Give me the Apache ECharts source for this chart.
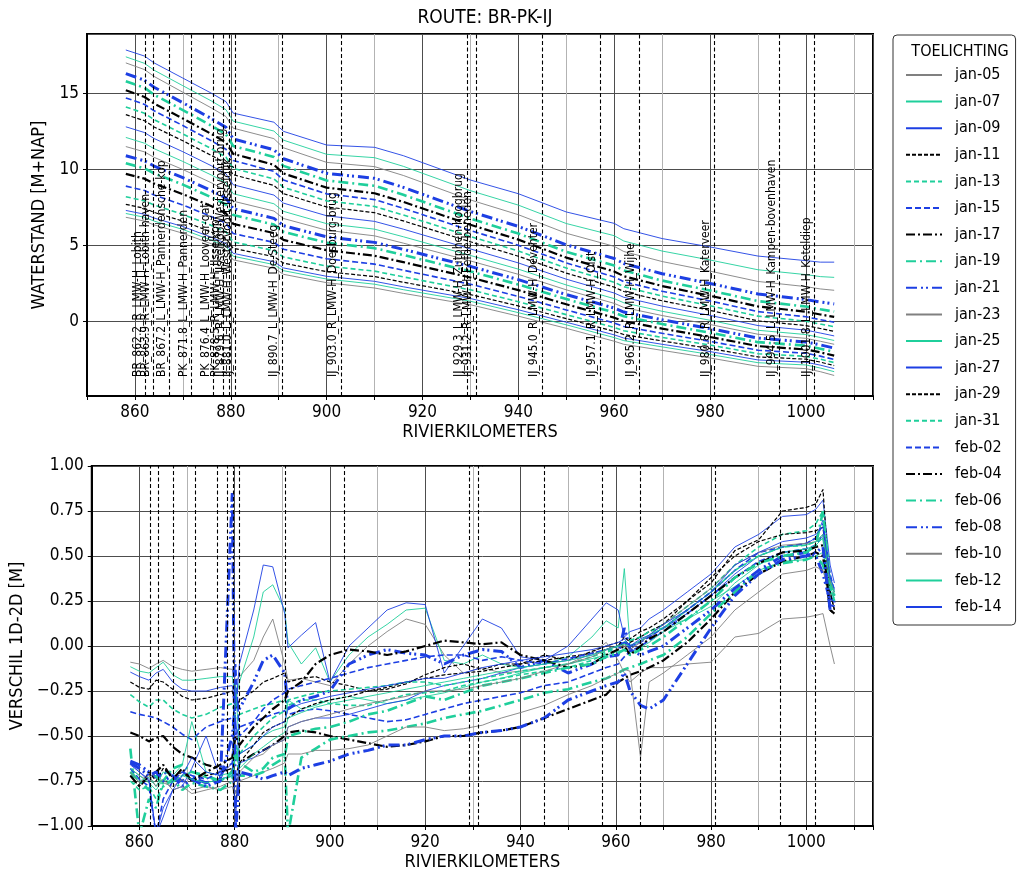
<!DOCTYPE html>
<html><head><meta charset="utf-8">
<script src="https://cdn.jsdelivr.net/npm/echarts@6/dist/echarts.min.js"></script>
<style>html,body{margin:0;padding:0;background:#fff}#c{width:1020px;height:873px}</style>
</head><body><div id="c"></div>
<script>
const FONT = "'DejaVu Sans Condensed','Liberation Sans Narrow','DejaVu Sans',sans-serif";

const dates = ['jan-05','jan-07','jan-09','jan-11','jan-13','jan-15','jan-17','jan-19','jan-21','jan-23','jan-25','jan-27','jan-29','jan-31','feb-02','feb-04','feb-06','feb-08','feb-10','feb-12','feb-14'];

// ---- top panel: waterstand [m+NAP] ----
const kmTop = [858.1, 862, 864, 870, 876, 879, 880.5, 889, 891, 900, 910, 916, 930, 940, 950, 960, 962, 970, 980, 990, 1000, 1003, 1005.9];
const wsJan05 = [6.85, 6.6, 6.35, 5.8, 5.1, 4.7, 4.05, 3.5, 3.1, 2.55, 2.2, 1.85, 1.1, 0.35, -0.45, -1.3, -1.5, -1.9, -2.4, -2.95, -3.1, -3.3, -3.55];
const wsJan07 = [7.1, 6.85, 6.6, 6.05, 5.34, 4.94, 4.29, 3.74, 3.34, 2.79, 2.45, 2.09, 1.33, 0.58, -0.22, -1.06, -1.26, -1.67, -2.17, -2.71, -2.86, -3.06, -3.3];
const wsJan09 = [7.3, 7.05, 6.8, 6.24, 5.53, 5.13, 4.48, 3.93, 3.52, 2.97, 2.64, 2.28, 1.51, 0.77, -0.05, -0.88, -1.09, -1.5, -1.98, -2.53, -2.68, -2.87, -3.1];
const wsJan11 = [7.7, 7.44, 7.17, 6.6, 5.87, 5.46, 4.81, 4.26, 3.84, 3.27, 2.95, 2.58, 1.77, 1.02, 0.19, -0.65, -0.86, -1.28, -1.78, -2.33, -2.48, -2.67, -2.9];
const wsJan13 = [8.2, 7.93, 7.66, 7.04, 6.31, 5.89, 5.23, 4.66, 4.24, 3.64, 3.31, 2.93, 2.08, 1.3, 0.45, -0.39, -0.61, -1.05, -1.55, -2.12, -2.29, -2.48, -2.7];
const wsJan15 = [8.9, 8.61, 8.31, 7.66, 6.89, 6.46, 5.78, 5.2, 4.75, 4.12, 3.77, 3.37, 2.45, 1.65, 0.76, -0.1, -0.33, -0.78, -1.31, -1.89, -2.09, -2.28, -2.5];
const wsJan17 = [9.7, 9.39, 9.07, 8.37, 7.57, 7.11, 6.42, 5.81, 5.36, 4.68, 4.32, 3.9, 2.89, 2.06, 1.13, 0.25, 0.01, -0.47, -1.02, -1.62, -1.84, -2.03, -2.25];
const wsJan19 = [10.4, 10.07, 9.74, 9.0, 8.16, 7.69, 7.0, 6.37, 5.89, 5.18, 4.82, 4.37, 3.29, 2.43, 1.47, 0.59, 0.34, -0.17, -0.74, -1.36, -1.59, -1.79, -2.0];
const wsJan21 = [10.9, 10.56, 10.22, 9.45, 8.6, 8.11, 7.42, 6.78, 6.3, 5.56, 5.2, 4.74, 3.62, 2.75, 1.77, 0.88, 0.62, 0.11, -0.47, -1.09, -1.35, -1.54, -1.75];
const wsJan23 = [11.5, 11.15, 10.79, 9.99, 9.11, 8.62, 7.91, 7.26, 6.77, 6.0, 5.63, 5.15, 3.98, 3.1, 2.08, 1.19, 0.92, 0.39, -0.2, -0.84, -1.11, -1.3, -1.5];
const wsJan25 = [12.1, 11.72, 11.36, 10.52, 9.62, 9.12, 8.4, 7.74, 7.24, 6.43, 6.07, 5.57, 4.34, 3.44, 2.4, 1.5, 1.23, 0.67, 0.08, -0.58, -0.86, -1.05, -1.25];
const wsJan27 = [12.8, 12.42, 12.03, 11.16, 10.23, 9.71, 8.99, 8.31, 7.78, 6.95, 6.58, 6.07, 4.77, 3.85, 2.78, 1.87, 1.59, 1.01, 0.4, -0.27, -0.57, -0.76, -0.95];
const wsJan29 = [13.6, 13.2, 12.79, 11.88, 10.91, 10.38, 9.65, 8.94, 8.4, 7.53, 7.15, 6.61, 5.24, 4.29, 3.18, 2.26, 1.97, 1.36, 0.73, 0.04, -0.27, -0.46, -0.65];
const wsJan31 = [14.1, 13.69, 13.27, 12.33, 11.35, 10.8, 10.07, 9.37, 8.82, 7.93, 7.56, 7.0, 5.59, 4.63, 3.51, 2.58, 2.29, 1.67, 1.03, 0.35, 0.02, -0.17, -0.35];
const wsFeb02 = [14.7, 14.27, 13.85, 12.88, 11.87, 11.32, 10.58, 9.87, 9.3, 8.39, 8.01, 7.44, 5.98, 5.01, 3.85, 2.93, 2.62, 1.99, 1.35, 0.65, 0.31, 0.12, -0.05];
const wsFeb04 = [15.2, 14.76, 14.33, 13.34, 12.32, 11.77, 11.02, 10.3, 9.73, 8.8, 8.43, 7.86, 6.36, 5.38, 4.2, 3.29, 2.98, 2.33, 1.69, 0.99, 0.64, 0.46, 0.3];
const wsFeb06 = [15.8, 15.36, 14.91, 13.9, 12.86, 12.3, 11.54, 10.82, 10.23, 9.27, 8.92, 8.33, 6.77, 5.78, 4.58, 3.68, 3.35, 2.69, 2.04, 1.34, 0.98, 0.8, 0.65];
const wsFeb08 = [16.3, 15.86, 15.4, 14.38, 13.33, 12.76, 12.0, 11.29, 10.7, 9.74, 9.41, 8.82, 7.23, 6.25, 5.04, 4.14, 3.81, 3.14, 2.5, 1.81, 1.44, 1.28, 1.15];
const wsFeb10 = [17.0, 16.56, 16.11, 15.07, 14.03, 13.47, 12.71, 12.02, 11.42, 10.46, 10.18, 9.6, 7.99, 7.02, 5.8, 4.94, 4.6, 3.94, 3.31, 2.63, 2.29, 2.14, 2.05];
const wsFeb12 = [17.4, 16.97, 16.52, 15.5, 14.49, 13.92, 13.17, 12.52, 11.92, 10.99, 10.77, 10.2, 8.6, 7.65, 6.44, 5.64, 5.29, 4.63, 4.04, 3.4, 3.08, 2.95, 2.9];
const wsFeb14 = [17.85, 17.45, 17.0, 16.0, 15.0, 14.45, 13.7, 13.1, 12.5, 11.6, 11.45, 10.9, 9.3, 8.4, 7.2, 6.45, 6.1, 5.45, 4.9, 4.3, 4.0, 3.9, 3.9];

// ---- bottom panel: verschil 1D-2D [m] ----
const kmBot = [858.1, 860, 862, 863.5, 865, 867, 869, 871, 874, 877,
  879.5, 880.2, 881, 884, 886, 888, 890.5, 891.2, 894, 897,
  900, 904, 908, 912, 916, 920, 924, 928, 932, 936,
  940, 945, 950, 955, 958, 960.5, 961.8, 963, 965.2, 967,
  970, 975, 980, 985, 990, 995, 1000, 1002, 1003.5, 1005, 1005.9];
const dfJan05 = [-0.09, -0.1, -0.125, -0.1, -0.08, -0.115, -0.13, -0.14, -0.13, -0.12, -0.13, -0.2, -0.17, -0.08, 0.05, 0.15, -0.1, -0.19, -0.18, -0.2, -0.22, -0.1, 0.0, 0.08, 0.15, 0.12, -0.05, -0.15, -0.12, -0.15, -0.14, -0.12, -0.1, -0.04, 0.02, -0.08, -0.15, -0.2, -0.15, -0.12, -0.12, -0.1, -0.09, 0.05, 0.07, 0.15, 0.16, 0.17, 0.18, 0.0, -0.1];
const dfJan07 = [-0.115, -0.14, -0.15, -0.12, -0.09, -0.16, -0.19, -0.19, -0.18, -0.17, -0.17, -0.3, -0.2, 0.05, 0.3, 0.34, 0.2, 0.02, -0.1, -0.01, -0.2, -0.05, 0.05, 0.12, 0.2, 0.21, -0.08, -0.1, -0.05, -0.1, -0.12, -0.1, -0.06, 0.05, 0.14, 0.1, 0.43, 0.0, 0.03, 0.06, 0.1, 0.15, 0.25, 0.33, 0.42, 0.47, 0.48, 0.5, 0.52, 0.35, 0.3];
const dfJan09 = [-0.145, -0.17, -0.19, -0.15, -0.13, -0.2, -0.24, -0.25, -0.25, -0.23, -0.22, -0.35, -0.1, 0.2, 0.45, 0.44, 0.18, -0.01, 0.06, 0.13, -0.2, 0.0, 0.1, 0.2, 0.24, 0.23, -0.15, 0.0, 0.15, 0.1, -0.06, -0.08, 0.0, 0.15, 0.24, 0.2, 0.05, 0.08, 0.1, 0.15, 0.2, 0.3, 0.4, 0.55, 0.62, 0.72, 0.73, 0.76, 0.81, 0.45, 0.35];
const dfJan11 = [-0.2, -0.23, -0.24, -0.19, -0.2, -0.24, -0.28, -0.3, -0.29, -0.27, -0.25, -0.35, -0.3, -0.25, -0.2, -0.18, -0.15, -0.2, -0.18, -0.17, -0.2, -0.22, -0.25, -0.24, -0.21, -0.16, -0.12, -0.1, -0.13, -0.1, -0.1, -0.05, -0.08, -0.03, 0.0, 0.02, 0.0, 0.04, 0.08, 0.1, 0.15, 0.25, 0.35, 0.53, 0.59, 0.75, 0.77, 0.79, 0.87, 0.3, 0.2];
const dfJan13 = [-0.27, -0.31, -0.34, -0.3, -0.3, -0.35, -0.38, -0.4, -0.38, -0.34, -0.32, -0.4, -0.38, -0.35, -0.33, -0.32, -0.3, -0.33, -0.3, -0.3, -0.32, -0.33, -0.33, -0.3, -0.27, -0.26, -0.25, -0.22, -0.2, -0.18, -0.16, -0.14, -0.12, -0.08, -0.04, 0.0, 0.02, 0.03, 0.05, 0.08, 0.12, 0.22, 0.32, 0.45, 0.55, 0.62, 0.64, 0.68, 0.75, 0.38, 0.28];
const dfJan15 = [-0.365, -0.38, -0.39, -0.4, -0.42, -0.45, -0.49, -0.52, -0.45, -0.42, -0.4, -0.5, -0.45, -0.42, -0.4, -0.38, -0.36, -0.38, -0.36, -0.35, -0.36, -0.38, -0.4, -0.42, -0.41, -0.38, -0.35, -0.32, -0.3, -0.28, -0.26, -0.22, -0.2, -0.15, -0.12, -0.1, -0.06, -0.03, 0.0, 0.03, 0.08, 0.18, 0.28, 0.38, 0.47, 0.52, 0.54, 0.56, 0.62, 0.3, 0.22];
const dfJan17 = [-0.48, -0.5, -0.53, -0.51, -0.5, -0.56, -0.6, -0.62, -0.66, -0.68, -0.7, -0.75, -0.65, -0.6, -0.58, -0.55, -0.5, -0.48, -0.47, -0.48, -0.5, -0.52, -0.54, -0.56, -0.55, -0.53, -0.5, -0.5, -0.48, -0.47, -0.45, -0.4, -0.35, -0.3, -0.27, -0.2, -0.18, -0.16, -0.14, -0.12, -0.08, 0.02, 0.15, 0.3, 0.4, 0.47, 0.5, 0.52, 0.5, 0.2, 0.18];
const dfJan19 = [-0.57, -1.05, -0.85, -0.9, -0.75, -0.68, -0.66, -0.7, -0.72, -0.75, -0.7, -0.6, -0.65, -0.7, -0.68, -0.62, -0.6, -1.05, -0.62, -0.57, -0.52, -0.5, -0.48, -0.47, -0.45, -0.43, -0.4, -0.38, -0.36, -0.33, -0.3, -0.26, -0.24, -0.2, -0.18, -0.15, -0.13, -0.12, -0.1, -0.08, -0.05, 0.05, 0.18, 0.3, 0.42, 0.46, 0.48, 0.5, 0.45, 0.3, 0.25];
const dfJan21 = [-0.64, -0.66, -0.7, -0.73, -0.7, -0.72, -0.75, -0.73, -0.76, -0.74, -0.5, -0.3, -0.35, -0.2, -0.08, -0.05, -0.15, -0.35, -0.3, -0.28, -0.25, -0.1, -0.05, -0.02, -0.04, -0.05, -0.1, -0.05, -0.02, -0.03, -0.12, -0.08, -0.15, -0.1, -0.06, -0.05, 0.1, -0.02, -0.05, -0.03, 0.0, 0.1, 0.2, 0.32, 0.42, 0.5, 0.52, 0.5, 0.4, 0.25, 0.3];
const dfJan23 = [-0.68, -0.72, -0.75, -0.7, -0.76, -0.78, -0.74, -0.8, -0.78, -0.8, -0.78, -0.85, -0.75, -0.72, -0.7, -0.68, -0.65, -0.6, -0.6, -0.58, -0.58, -0.57, -0.55, -0.5, -0.45, -0.45, -0.47, -0.46, -0.44, -0.4, -0.37, -0.33, -0.27, -0.22, -0.18, -0.15, -0.13, -0.14, -0.62, -0.2, -0.15, -0.05, 0.05, 0.2, 0.3, 0.4, 0.42, 0.44, 0.42, 0.28, 0.3];
const dfJan25 = [-0.7, -0.75, -0.73, -0.78, -0.7, -0.72, -0.66, -0.42, -0.7, -0.72, -0.7, -0.2, -0.6, -0.55, -0.5, -0.47, -0.45, -0.3, -0.35, -0.33, -0.3, -0.28, -0.3, -0.32, -0.3, -0.28, -0.26, -0.23, -0.2, -0.18, -0.15, -0.12, -0.1, -0.07, -0.05, -0.03, -0.02, -0.04, -0.01, 0.02, 0.08, 0.15, 0.22, 0.35, 0.45, 0.52, 0.54, 0.56, 0.6, 0.35, 0.25];
const dfJan27 = [-0.65, -0.7, -0.75, -1.05, -0.9, -0.8, -0.78, -0.68, -0.5, -0.74, -0.72, -0.4, -0.65, -0.62, -0.58, -0.55, -0.52, -0.45, -0.42, -0.4, -0.4, -0.38, -0.35, -0.32, -0.3, -0.25, -0.22, -0.2, -0.18, -0.15, -0.12, -0.1, -0.08, -0.05, -0.02, 0.0, 0.02, -0.02, 0.03, 0.05, 0.1, 0.18, 0.28, 0.4, 0.5, 0.55, 0.57, 0.6, 0.7, 0.35, 0.3];
const dfJan29 = [-0.72, -0.78, -0.7, -0.75, -0.68, -0.73, -0.7, -0.75, -0.72, -0.7, -0.68, -0.9, -0.65, -0.55, -0.48, -0.45, -0.42, -0.4, -0.35, -0.32, -0.3, -0.28, -0.25, -0.23, -0.2, -0.18, -0.16, -0.15, -0.14, -0.12, -0.1, -0.08, -0.06, -0.04, -0.02, 0.0, 0.05, 0.02, 0.05, 0.08, 0.12, 0.25, 0.38, 0.5, 0.58, 0.62, 0.63, 0.64, 0.66, 0.3, 0.2];
const dfJan31 = [-0.75, -0.8, -0.78, -0.85, -0.78, -0.75, -0.72, -0.7, -0.73, -0.75, -0.72, -0.55, -0.6, -0.5, -0.45, -0.4, -0.36, -0.3, -0.28, -0.26, -0.25, -0.24, -0.23, -0.22, -0.2, -0.2, -0.22, -0.2, -0.18, -0.16, -0.14, -0.12, -0.1, -0.06, -0.03, 0.0, 0.02, 0.03, 0.05, 0.08, 0.1, 0.2, 0.3, 0.42, 0.5, 0.55, 0.56, 0.58, 0.6, 0.32, 0.26];
const dfFeb02 = [-0.68, -0.74, -0.78, -1.05, -0.85, -0.75, -0.7, -0.72, -0.74, -0.7, -0.65, -0.1, -0.5, -0.42, -0.35, -0.3, -0.26, -0.24, -0.22, -0.2, -0.18, -0.15, -0.12, -0.1, -0.08, -0.06, -0.05, -0.05, -0.08, -0.06, -0.08, -0.1, -0.07, -0.04, -0.02, 0.0, 0.02, 0.0, 0.02, 0.05, 0.1, 0.2, 0.3, 0.42, 0.52, 0.55, 0.57, 0.6, 0.68, 0.4, 0.3];
const dfFeb04 = [-0.72, -0.78, -0.72, -0.7, -0.66, -0.74, -0.68, -0.75, -0.7, -0.66, -0.62, -0.5, -0.55, -0.45, -0.4, -0.35, -0.3, -0.25, -0.2, -0.1, -0.05, -0.02, -0.03, -0.05, -0.03, 0.0, 0.03, 0.02, 0.01, 0.02, -0.05, -0.08, -0.12, -0.1, -0.05, -0.02, 0.0, -0.05, 0.0, 0.04, 0.08, 0.18, 0.28, 0.38, 0.46, 0.52, 0.53, 0.55, 0.56, 0.2, 0.18];
const dfFeb06 = [-0.7, -0.75, -0.8, -0.72, -0.78, -0.74, -0.8, -0.76, -0.78, -0.8, -0.75, -0.55, -0.72, -0.72, -0.7, -0.66, -0.62, -0.5, -0.48, -0.46, -0.45, -0.42, -0.38, -0.36, -0.32, -0.28, -0.3, -0.26, -0.22, -0.2, -0.18, -0.15, -0.12, -0.1, -0.06, -0.04, -0.02, -0.05, -0.02, 0.0, 0.05, 0.15, 0.25, 0.38, 0.46, 0.5, 0.52, 0.56, 0.75, 0.35, 0.28];
const dfFeb08 = [-0.65, -0.68, -0.72, -0.7, -0.75, -0.72, -0.78, -0.74, -0.78, -0.75, 0.85, -1.05, -0.7, -0.72, -0.74, -0.72, -0.7, -0.72, -0.68, -0.66, -0.64, -0.6, -0.58, -0.55, -0.55, -0.52, -0.5, -0.5, -0.48, -0.47, -0.45, -0.4, -0.3, -0.25, -0.22, -0.2, -0.15, -0.25, -0.33, -0.35, -0.3, -0.1, 0.1, 0.28, 0.4, 0.48, 0.5, 0.52, 0.55, 0.2, 0.25];
const dfFeb10 = [-0.7, -0.76, -0.72, -0.78, -0.74, -0.8, -0.78, -0.82, -0.8, -0.78, -0.75, -0.82, -0.7, -0.62, -0.6, -0.55, -0.52, -0.45, -0.42, -0.4, -0.38, -0.35, -0.32, -0.3, -0.28, -0.25, -0.25, -0.24, -0.22, -0.2, -0.18, -0.14, -0.1, -0.06, -0.02, 0.0, 0.0, -0.02, 0.02, 0.06, 0.12, 0.22, 0.32, 0.45, 0.52, 0.56, 0.57, 0.58, 0.62, 0.36, 0.3];
const dfFeb12 = [-0.68, -0.72, -0.76, -0.8, -0.74, -0.76, -0.72, -0.74, -0.76, -0.74, -0.72, -0.6, -0.68, -0.6, -0.56, -0.52, -0.48, -0.4, -0.37, -0.34, -0.32, -0.3, -0.28, -0.26, -0.24, -0.22, -0.2, -0.18, -0.16, -0.14, -0.12, -0.1, -0.08, -0.05, -0.02, 0.0, 0.01, 0.0, 0.03, 0.06, 0.1, 0.2, 0.3, 0.42, 0.5, 0.55, 0.56, 0.58, 0.62, 0.38, 0.3];
const dfFeb14 = [-0.66, -0.7, -0.74, -1.05, -0.95, -0.8, -0.72, -0.62, -0.7, -0.72, -0.65, -0.95, -0.6, -0.55, -0.5, -0.45, -0.42, -0.35, -0.32, -0.3, -0.28, -0.26, -0.24, -0.22, -0.2, -0.18, -0.18, -0.15, -0.12, -0.1, -0.08, -0.06, -0.04, -0.02, 0.0, 0.02, 0.04, 0.0, 0.04, 0.06, 0.12, 0.2, 0.3, 0.45, 0.52, 0.58, 0.6, 0.62, 0.66, 0.38, 0.32];

// ---- meetstations (vertical reference lines) ----
const stationKm = [862.2, 863.9, 867.2, 871.8, 876.4, 878.5, 879.6, 881.0, 890.7, 903.0, 929.3, 931.2, 945.0, 957.1, 965.2, 980.8, 994.5, 1001.8];
const stationNames = ['BR_862.2_R_LMW-H_Lobith', 'BR_863.9_R_LMW-H_Lobith-haven', 'BR_867.2_L_LMW-H_Pannerdensche-kop',
  'PK_871.8_L_LMW-H_Pannerden', 'PK_876.4_L_LMW-H_Looveer-gat', 'PK_878.5_R_LMW-H_IJsselkop',
  'IJ_879.6_R_LMW-H_IJsselkop-Westervoort-brug', 'IJ_881.0_L_LMW-H_Westervoort-IJsseldijk',
  'IJ_890.7_L_LMW-H_De-Steeg', 'IJ_903.0_R_LMW-H_Doesburg-brug', 'IJ_929.3_L_LMW-H_Zutphen-hoogbrug',
  'IJ_931.2_R_LMW-H_Eefde-beneden', 'IJ_945.0_R_LMW-H_Deventer', 'IJ_957.1_R_LMW-H_Olst',
  'IJ_965.2_R_LMW-H_Wijhe', 'IJ_980.8_R_LMW-H_Katerveer', 'IJ_994.5_L_LMW-H_Kampen-bovenhaven',
  'IJ_1001.8_L_LMW-H_Keteldiep'];

const wsAll = [wsJan05, wsJan07, wsJan09, wsJan11, wsJan13, wsJan15, wsJan17, wsJan19, wsJan21, wsJan23, wsJan25,
  wsJan27, wsJan29, wsJan31, wsFeb02, wsFeb04, wsFeb06, wsFeb08, wsFeb10, wsFeb12, wsFeb14];
const dfAll = [dfJan05, dfJan07, dfJan09, dfJan11, dfJan13, dfJan15, dfJan17, dfJan19, dfJan21, dfJan23, dfJan25,
  dfJan27, dfJan29, dfJan31, dfFeb02, dfFeb04, dfFeb06, dfFeb08, dfFeb10, dfFeb12, dfFeb14];

const GREY = '#808080', TEAL = '#1fcf9b', BLUE = '#1d3fe3', BLACK = '#000000';
const STYLES = [
  {color: GREY, width: 0.9, type: 'solid'},
  {color: TEAL, width: 0.9, type: 'solid'},
  {color: BLUE, width: 0.9, type: 'solid'},
  {color: BLACK, width: 1.2, type: [4, 2]},
  {color: TEAL, width: 1.6, type: [5, 3]},
  {color: BLUE, width: 1.6, type: [6, 3]},
  {color: BLACK, width: 2.2, type: [9, 3, 2, 3]},
  {color: TEAL, width: 2.6, type: [10, 4, 2, 4]},
  {color: BLUE, width: 3, type: [11, 4, 2, 3, 2, 4]}
];

function markLines(withLabel) {
  return {
    silent: true, symbol: ['none', 'none'], animation: false, precision: 1,
    lineStyle: {color: '#000', type: [4, 2.5], width: 1.1},
    label: withLabel ? {show: true, position: 'insideStartTop', distance: [19, 2], formatter: '{b}',
      fontSize: 12, fontFamily: FONT, color: '#000'} : {show: false},
    emphasis: {disabled: true},
    data: stationKm.map((k, i) => ({xAxis: k, name: stationNames[i]}))
  };
}

const series = [];
[0, 1].forEach(panel => {
  const km = panel === 0 ? kmTop : kmBot;
  const all = panel === 0 ? wsAll : dfAll;
  dates.forEach((d, i) => {
    const st = STYLES[i % 9];
    const s = {
      type: 'line', name: d, xAxisIndex: panel, yAxisIndex: panel,
      data: km.map((k, j) => [k, all[i][j]]),
      symbol: 'none', showSymbol: false, clip: true, animation: false,
      lineStyle: {color: st.color, width: st.width, type: st.type},
      itemStyle: {color: st.color},
      emphasis: {disabled: true}
    };
    if (i === 0) s.markLine = markLines(panel === 0);
    series.push(s);
  });
});

const axisText = {fontSize: 17, fontFamily: FONT, color: '#000'};
function xAxisCfg(idx) {
  return {
    type: 'value', gridIndex: idx, min: 850, max: 1014, interval: 10,
    axisLine: {show: true, onZero: false, lineStyle: {color: '#000', width: 2}},
    axisTick: {show: true, length: 4, lineStyle: {color: '#000'}},
    axisLabel: Object.assign({margin: 8, formatter: v => (v % 20 === 0 ? String(v) : '')}, axisText),
    splitLine: {show: true, lineStyle: {color: ['#b3b3b3', '#4d4d4d'], width: 1}},
    name: 'RIVIERKILOMETERS', nameLocation: 'middle', nameGap: 27,
    nameTextStyle: {fontSize: 18, fontFamily: FONT, color: '#000'}
  };
}

const option = {
  backgroundColor: '#fff',
  animation: false,
  textStyle: {fontFamily: FONT},
  title: [
    {text: 'ROUTE: BR-PK-IJ', left: 480, top: 4, textAlign: 'center',
      textStyle: {fontSize: 19, fontWeight: 'normal', fontFamily: FONT, color: '#000'}},
    {text: 'TOELICHTING', left: 955, top: 39, textAlign: 'center',
      textStyle: {fontSize: 16, fontWeight: 'normal', fontFamily: FONT, color: '#000'}}
  ],
  legend: {
    orient: 'vertical', left: 893, top: 35, padding: [31, 14, 9, 12],
    data: dates, itemWidth: 36, itemHeight: 14, itemGap: 8.6,
    itemStyle: {opacity: 0, borderWidth: 0},
    borderColor: '#333', borderWidth: 1, borderRadius: 4, backgroundColor: '#fff',
    textStyle: {fontSize: 16, fontFamily: FONT, color: '#000', lineHeight: 18, padding: [0, 0, 0, 8]},
    selectedMode: false
  },
  grid: [
    {left: 87, top: 34, width: 786, height: 362, show: true, borderColor: '#000', borderWidth: 2, backgroundColor: 'transparent'},
    {left: 87, top: 466, width: 786, height: 360, show: true, borderColor: '#000', borderWidth: 2, backgroundColor: 'transparent'}
  ],
  xAxis: [xAxisCfg(0), xAxisCfg(1)],
  yAxis: [
    {type: 'value', gridIndex: 0, min: -4.9, max: 18.9, splitNumber: 5,
      axisLine: {show: true, lineStyle: {color: '#000', width: 2}},
      axisTick: {show: true, length: 4, lineStyle: {color: '#000'}},
      axisLabel: Object.assign({showMinLabel: false, showMaxLabel: false, margin: 8}, axisText),
      splitLine: {show: true, lineStyle: {color: '#4d4d4d', width: 1}},
      name: 'WATERSTAND [M+NAP]', nameLocation: 'middle', nameGap: 24,
      nameTextStyle: {fontSize: 18, fontFamily: FONT, color: '#000'}},
    {type: 'value', gridIndex: 1, min: -1, max: 1, interval: 0.25,
      axisLine: {show: true, lineStyle: {color: '#000', width: 2}},
      axisTick: {show: true, length: 4, lineStyle: {color: '#000'}},
      axisLabel: Object.assign({margin: 8, formatter: v => (v < 0 ? '\u2212' : '') + Math.abs(v).toFixed(2)}, axisText),
      splitLine: {show: true, lineStyle: {color: '#4d4d4d', width: 1}},
      name: 'VERSCHIL 1D-2D [M]', nameLocation: 'middle', nameGap: 54,
      nameTextStyle: {fontSize: 18, fontFamily: FONT, color: '#000'}}
  ],
  series: series
};

const chart = echarts.init(document.getElementById('c'), null, {renderer: 'canvas'});
chart.setOption(option);
</script>
</body></html>
